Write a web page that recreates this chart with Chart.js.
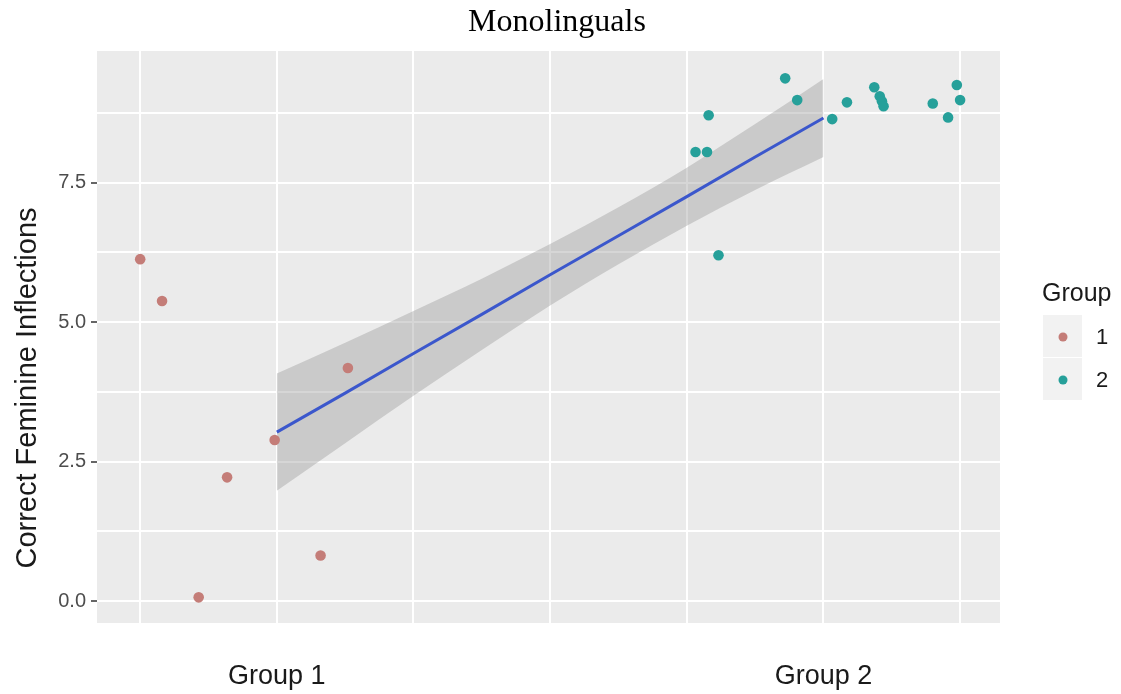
<!DOCTYPE html>
<html>
<head>
<meta charset="utf-8">
<script src="https://cdn.jsdelivr.net/npm/chart.js@4.4.0/dist/chart.umd.min.js"></script>
<style>
  body { margin: 0; background: #fff; }
</style>
</head>
<body>
<canvas id="chart" width="1121" height="694"></canvas>
<script>
// jittered group positions (group 1 around x=1, group 2 around x=2)
const group1X = [0.75, 0.79, 0.857, 0.909, 0.996, 1.08, 1.13];
const group1Y = [6.13, 5.38, 0.07, 2.22, 2.89, 0.82, 4.18];
const group2X = [1.766, 1.787, 1.790, 1.808, 1.930, 1.952, 2.016, 2.043, 2.093, 2.103, 2.107, 2.110, 2.200, 2.228, 2.244, 2.250];
const group2Y = [8.05, 8.05, 8.71, 6.20, 9.37, 8.98, 8.64, 8.94, 9.21, 9.05, 8.96, 8.87, 8.92, 8.67, 9.25, 8.98];

// smooth line and its confidence band
const fitX = [1.0, 1.125, 1.25, 1.375, 1.5, 1.625, 1.75, 1.875, 2.0];
const fitY = [3.03, 3.73, 4.44, 5.14, 5.85, 6.55, 7.25, 7.96, 8.66];
const fitUpper = [4.08, 4.63, 5.20, 5.78, 6.40, 7.06, 7.77, 8.55, 9.36];
const fitLower = [1.98, 2.83, 3.68, 4.50, 5.30, 6.04, 6.73, 7.37, 7.96];

const xTicks = [0.75, 1, 1.25, 1.5, 1.75, 2, 2.25];
const xTickLabels = { 1: "Group 1", 2: "Group 2" };
const yTicks = [0, 1.25, 2.5, 3.75, 5, 6.25, 7.5, 8.75];

const groupNames = ["1", "2"];
const groupColors = ["#C47D78", "#26A09A"];

const toPoints = (xs, ys) => xs.map((x, i) => ({ x: x, y: ys[i] }));

const panelBackground = {
  id: "panelBackground",
  beforeDraw(chart) {
    const { ctx, chartArea: a } = chart;
    ctx.save();
    ctx.fillStyle = "#EBEBEB";
    ctx.fillRect(a.left, a.top, a.right - a.left, a.bottom - a.top);
    ctx.restore();
  },
};

// title, y axis title and the group legend
const textLayer = {
  id: "textLayer",
  afterDraw(chart) {
    const { ctx } = chart;
    ctx.save();
    ctx.fillStyle = "#000";
    ctx.font = "32px 'Liberation Serif'";
    ctx.textAlign = "center";
    ctx.textBaseline = "alphabetic";
    ctx.fillText("Monolinguals", 557, 31);

    ctx.save();
    ctx.translate(28, 388);
    ctx.rotate(-Math.PI / 2);
    ctx.fillStyle = "#1a1a1a";
    ctx.font = "29px 'Liberation Sans'";
    ctx.textBaseline = "middle";
    ctx.fillText("Correct Feminine Inflections", 0, 0);
    ctx.restore();

    ctx.textAlign = "left";
    ctx.fillStyle = "#1a1a1a";
    ctx.font = "25px 'Liberation Sans'";
    ctx.fillText("Group", 1042, 301);
    groupNames.forEach((name, i) => {
      const top = 315 + i * 43;
      ctx.fillStyle = "#F2F2F2";
      ctx.fillRect(1043, top, 39, 42);
      ctx.fillStyle = groupColors[i];
      ctx.beginPath();
      ctx.arc(1063, top + 22, 4.5, 0, Math.PI * 2);
      ctx.fill();
      ctx.fillStyle = "#1a1a1a";
      ctx.font = "22px 'Liberation Sans'";
      ctx.textBaseline = "middle";
      ctx.fillText(name, 1096, top + 23);
    });
    ctx.restore();
  },
};

const ctx = document.getElementById("chart").getContext("2d");
new Chart(ctx, {
  type: "scatter",
  data: {
    datasets: [
      {
        type: "line",
        data: toPoints(fitX, fitUpper),
        borderWidth: 0,
        borderColor: "rgba(0,0,0,0)",
        backgroundColor: "rgba(153,153,153,0.4)",
        pointRadius: 0,
        cubicInterpolationMode: "monotone",
        fill: "+1",
        order: 4,
      },
      {
        type: "line",
        data: toPoints(fitX, fitLower),
        borderWidth: 0,
        borderColor: "rgba(0,0,0,0)",
        pointRadius: 0,
        cubicInterpolationMode: "monotone",
        fill: false,
        order: 4,
      },
      {
        type: "line",
        data: toPoints(fitX, fitY),
        borderColor: "#3B57CC",
        borderWidth: 3,
        pointRadius: 0,
        fill: false,
        order: 3,
      },
      {
        data: toPoints(group1X, group1Y),
        backgroundColor: groupColors[0],
        borderWidth: 0,
        pointRadius: 5.3,
        order: 1,
      },
      {
        data: toPoints(group2X, group2Y),
        backgroundColor: groupColors[1],
        borderWidth: 0,
        pointRadius: 5.3,
        order: 1,
      },
    ],
  },
  options: {
    responsive: false,
    animation: false,
    devicePixelRatio: 1,
    layout: { padding: { top: 51, right: 121, bottom: 0, left: 0 } },
    plugins: {
      legend: { display: false },
      tooltip: { enabled: false },
      title: { display: false },
    },
    scales: {
      x: {
        type: "linear",
        min: 0.671,
        max: 2.323,
        afterBuildTicks: (axis) => {
          axis.ticks = xTicks.map((v) => ({ value: v }));
        },
        afterFit: (scale) => {
          scale.height = 71;
        },
        border: { display: false },
        grid: { color: "#FFFFFF", lineWidth: 2, drawTicks: false },
        ticks: {
          autoSkip: false,
          maxRotation: 0,
          padding: 37,
          color: "#1a1a1a",
          font: { family: "Liberation Sans", size: 27 },
          callback: (v) => xTickLabels[v] || "",
        },
      },
      y: {
        min: -0.39,
        max: 9.86,
        afterBuildTicks: (axis) => {
          axis.ticks = yTicks.map((v) => ({ value: v }));
        },
        afterFit: (scale) => {
          scale.width = 97;
        },
        border: { display: false },
        grid: {
          color: "#FFFFFF",
          lineWidth: 2,
          tickLength: 6,
          tickWidth: 1.5,
          tickColor: (c) => (c.tick && c.tick.value % 2.5 === 0 ? "#333333" : "rgba(0,0,0,0)"),
        },
        ticks: {
          autoSkip: false,
          padding: 5,
          color: "#4D4D4D",
          font: { family: "Liberation Sans", size: 20 },
          callback: (v) => (v % 2.5 === 0 ? v.toFixed(1) : ""),
        },
      },
    },
  },
  plugins: [panelBackground, textLayer],
});
</script>
</body>
</html>
